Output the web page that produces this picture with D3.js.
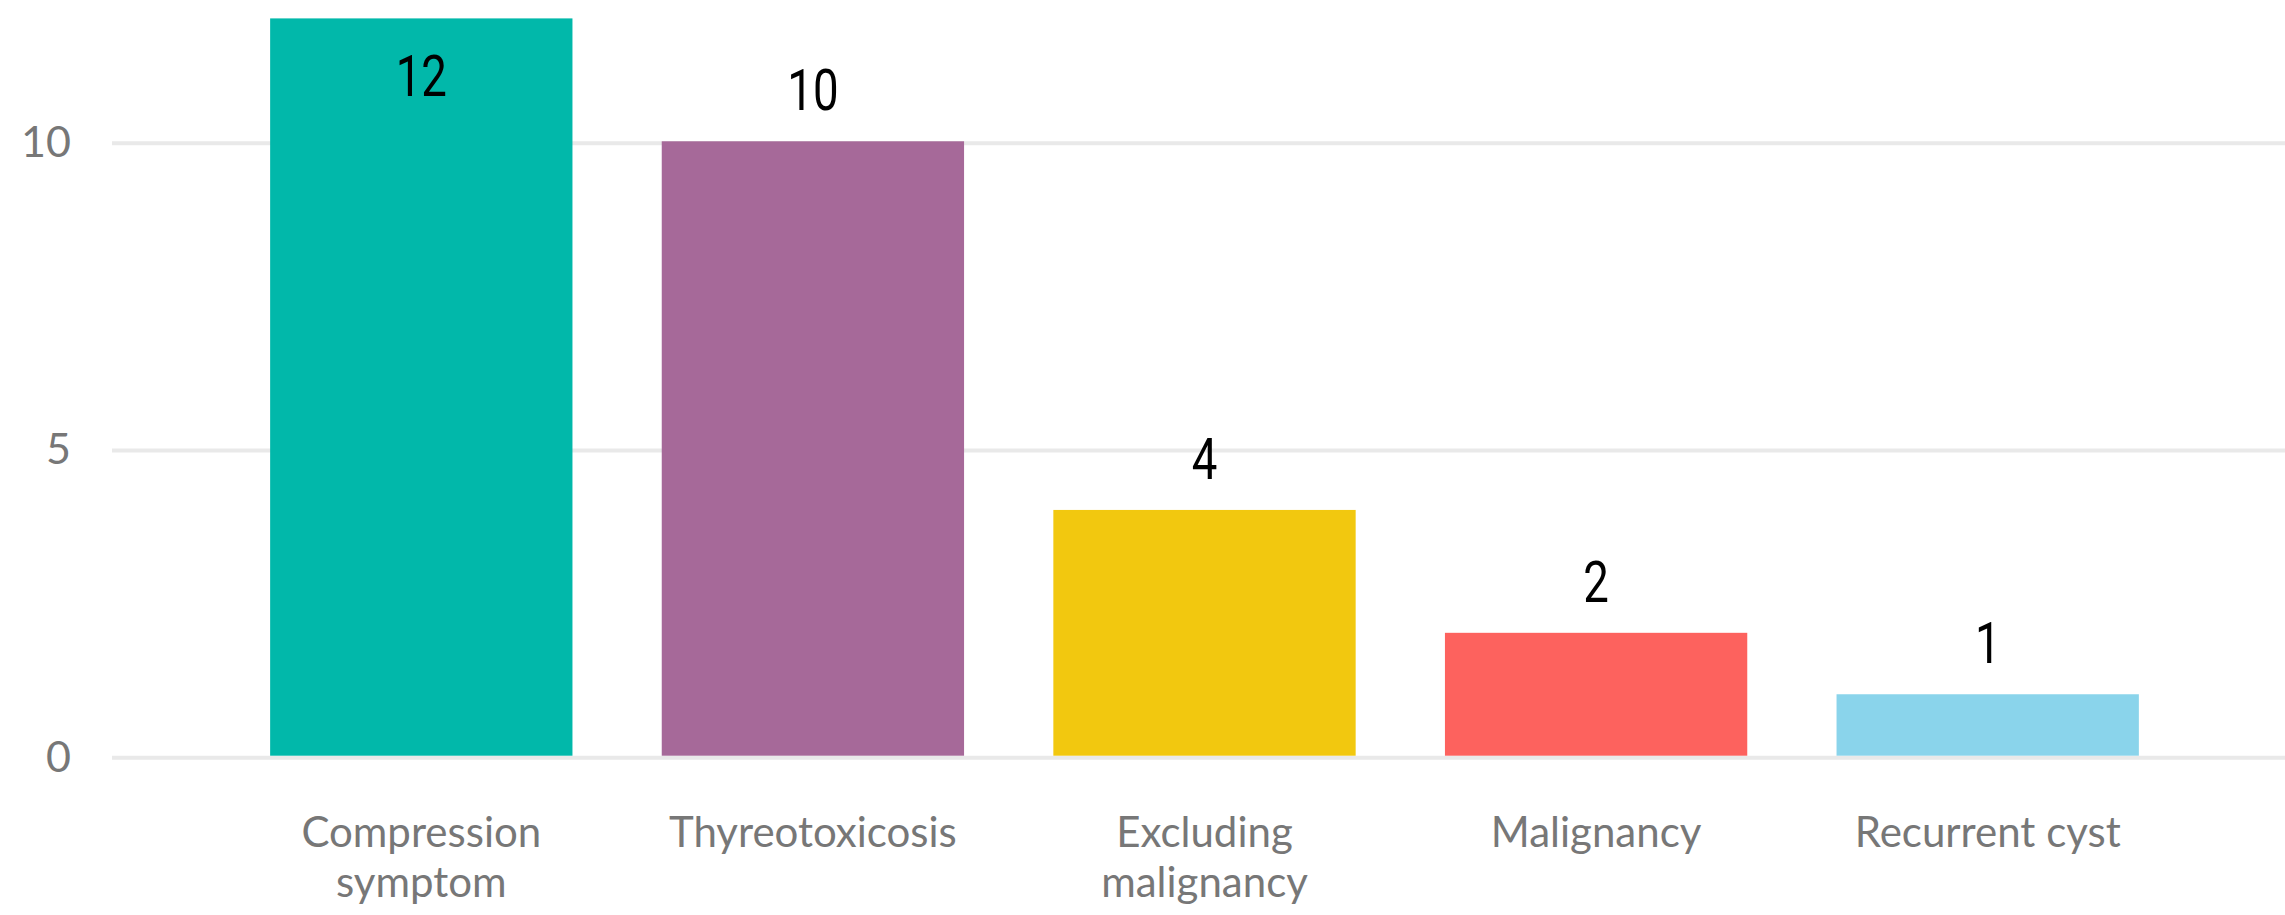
<!DOCTYPE html>
<html>
<head>
<meta charset="utf-8">
<script src="https://cdn.jsdelivr.net/npm/d3@7"></script>
<style>
  body { margin: 0; background: #fff; }
  .axis text { font-family: Lato, "Open Sans", sans-serif; fill: #777; }
  .label { font-family: Roboto, "Liberation Sans", sans-serif; font-weight: 400; }
</style>
</head>
<body>
<svg id="chart" width="2285" height="915"></svg>
<script>
var categories = ["Compression symptom", "Thyreotoxicosis", "Excluding malignancy", "Malignancy", "Recurrent cyst"];
var counts = [12, 10, 4, 2, 1];
var colors = ["#01B8AA", "#A66999", "#F2C80F", "#FD625E", "#8AD4EB"];
var yTicks = [0, 5, 10];

var W = 2285, H = 915;
var svg = d3.select("#chart");

var gridLeft = 112;

var x = d3.scaleBand()
  .domain(categories)
  .range([225.5, 2183.5])
  .paddingInner(0.228)
  .paddingOuter(0.114);

var y = d3.scaleLinear()
  .domain([0, 12])
  .range([755.7, 18.4]);

// gridlines + y labels
var yAxis = svg.append("g")
    .attr("class", "y axis")
    .attr("transform", "translate(" + gridLeft + ",0)")
    .call(d3.axisLeft(y).tickValues(yTicks).tickSize(-(W - gridLeft)).tickPadding(41));

yAxis.select(".domain").remove();
yAxis.selectAll(".tick line")
    .attr("stroke", "#e9e9e9")
    .attr("stroke-width", 4)
    .attr("transform", "translate(0,1.5)");
yAxis.selectAll(".tick text")
    .style("font-size", "43px")
    .attr("dy", "0.36em");

// bars
var data = categories.map(function(c, i){ return {cat: c, val: counts[i], color: colors[i]}; });

svg.selectAll("rect.bar")
    .data(data)
  .enter().append("rect")
    .attr("class", "bar")
    .attr("x", function(d){ return x(d.cat); })
    .attr("y", function(d){ return y(d.val); })
    .attr("width", x.bandwidth())
    .attr("height", function(d){ return y(0) - y(d.val); })
    .attr("fill", function(d){ return d.color; });

// value labels (inside end if no room above), squeezed to look like the condensed DIN face
var labelH = 41;
svg.selectAll("text.label")
    .data(data)
  .enter().append("text")
    .attr("class", "label")
    .attr("transform", function(d){
      var top = y(d.val);
      var ly = (top - 31 - labelH < 0) ? top + 37 + labelH : top - 31;
      return "translate(" + (x(d.cat) + x.bandwidth() / 2) + "," + ly + ") scale(0.8,1)";
    })
    .attr("text-anchor", "middle")
    .style("font-size", "57px")
    .style("fill", "#000")
    .text(function(d){ return d.val; });

// x axis labels
var xAxis = svg.append("g")
    .attr("class", "x axis")
    .attr("transform", "translate(0," + y(0) + ")")
    .call(d3.axisBottom(x).tickSize(0));

xAxis.select(".domain").remove();
xAxis.selectAll(".tick text")
    .style("font-size", "42px")
    .attr("y", 91)
    .attr("dy", 0)
    .call(wrap, x.bandwidth());

function wrap(text, width) {
  text.each(function() {
    var t = d3.select(this),
        words = t.text().split(/\s+/),
        line = [],
        lineNo = 0,
        yy = t.attr("y"),
        tspan = t.text(null).append("tspan").attr("x", 0).attr("y", yy);
    words.forEach(function(w){
      line.push(w);
      tspan.text(line.join(" "));
      if (tspan.node().getComputedTextLength() > width && line.length > 1) {
        line.pop();
        tspan.text(line.join(" "));
        line = [w];
        lineNo++;
        tspan = t.append("tspan").attr("x", 0).attr("y", +yy + lineNo * 50).text(w);
      }
    });
  });
}
</script>
</body>
</html>
